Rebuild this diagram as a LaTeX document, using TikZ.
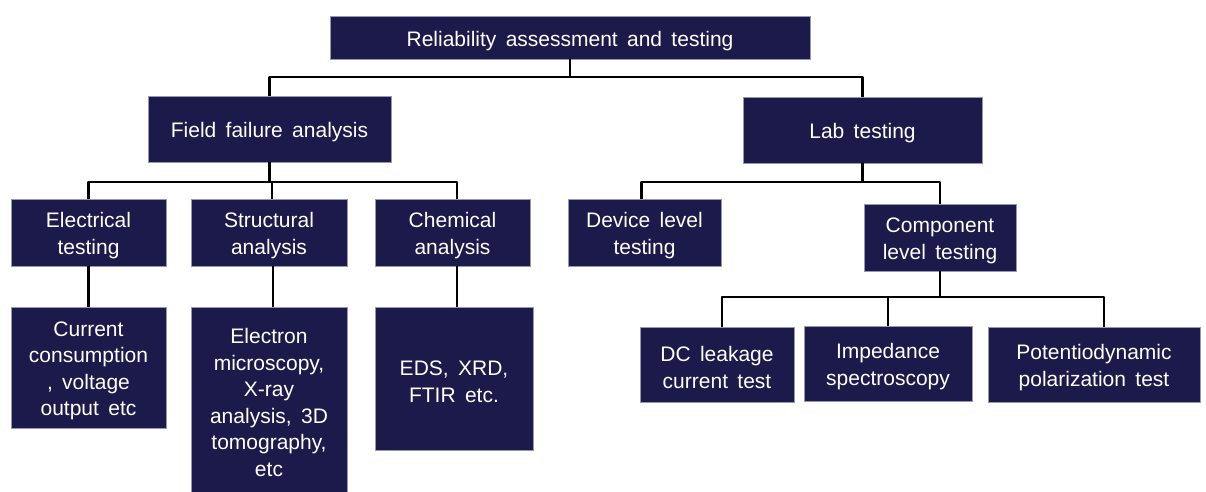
\documentclass[tikz,border=0pt]{standalone}
\usepackage{fontspec}
\setmainfont{Liberation Sans}[WordSpace=1.6]
\definecolor{navy}{RGB}{28,26,74}
\definecolor{rim}{RGB}{150,150,182}
\newcommand{\lift}{\rule{0pt}{21.5pt}}

\begin{document}
\begin{tikzpicture}[x=1pt,y=-1pt,
  box/.style={draw=rim,line width=0.7pt,fill=navy,text=white,align=center,inner sep=0pt,
    font=\fontsize{21}{26.5}\selectfont},
  wire/.style={draw=black,line width=2.8pt}]

\useasboundingbox (0,0) rectangle (1206,492);

%top level
\node[box,minimum width=480,minimum height=43] (root) at (570,37.5) {\lift Reliability assessment and testing};

%second level
\node[box,minimum width=243,minimum height=66] (ffa) at (269.5,129) {\lift Field failure analysis};
\node[box,minimum width=239,minimum height=66] (lab) at (862.5,130) {\lift Lab testing};

%field failure branch
\node[box,minimum width=155,minimum height=67] (elec) at (88.5,232.5) {\lift Electrical\\testing};
\node[box,minimum width=156,minimum height=67] (struct) at (269,232.5) {\lift Structural\\analysis};
\node[box,minimum width=155,minimum height=67] (chem) at (452.5,232.5) {\lift Chemical\\analysis};

\node[box,minimum width=155,minimum height=121] (current) at (88.5,367.5) {\lift Current\\consumption\\, voltage\\output etc};
\node[box,minimum width=156,minimum height=185] (electron) at (269,399.5) {\lift Electron\\microscopy,\\X-ray\\analysis, 3D\\tomography,\\etc};
\node[box,minimum width=158,minimum height=143] (eds) at (454,378.5) {\lift EDS, XRD,\\FTIR etc.};

%lab branch
\node[box,minimum width=153,minimum height=67] (device) at (644.5,232.5) {\lift Device level\\testing};
\node[box,minimum width=152,minimum height=67] (comp) at (940,237.5) {\lift Component\\level testing};

\node[box,minimum width=154,minimum height=75] (dc) at (717,364.5) {\lift DC leakage\\current test};
\node[box,minimum width=168,minimum height=75] (imp) at (888,363.5) {\lift Impedance\\spectroscopy};
\node[box,minimum width=212,minimum height=75] (pot) at (1094,364.5) {\lift Potentiodynamic\\polarization test};

%connectors (bus heights)
\coordinate (b1) at (0,77);
\coordinate (b2) at (0,182);
\coordinate (b3) at (0,297);

\path[wire] (root.south) -- (root.south |- b1);
\path[wire,line join=round] (ffa.north) -- (ffa.north |- b1) -- (lab.north |- b1) -- (lab.north);

\path[wire] (ffa.south) -- (ffa.south |- b2);
\path[wire,line join=round] (elec.north) -- (elec.north |- b2) -- ([xshift=4.5]chem.north |- b2) -- ([xshift=4.5]chem.north);
\path[wire] ([xshift=3]struct.north) -- ([xshift=3]struct.north |- b2);

\path[wire] (lab.south) -- (lab.south |- b2);
\path[wire,line join=round] ([xshift=-3]device.north) -- ([xshift=-3]device.north |- b2) -- (comp.north |- b2) -- (comp.north);

\path[wire] (elec.south) -- (current.north);
\path[wire] ([xshift=4]struct.south) -- ([xshift=4]struct.south |- electron.north);
\path[wire] ([xshift=4.5]chem.south) -- ([xshift=4.5]chem.south |- eds.north);

\path[wire] (comp.south) -- (comp.south |- b3);
\path[wire,line join=round] ([xshift=5]dc.north) -- ([xshift=5]dc.north |- b3) -- ([xshift=10]pot.north |- b3) -- ([xshift=10]pot.north);
\path[wire] (imp.north) -- (imp.north |- b3);

\end{tikzpicture}
\end{document}
